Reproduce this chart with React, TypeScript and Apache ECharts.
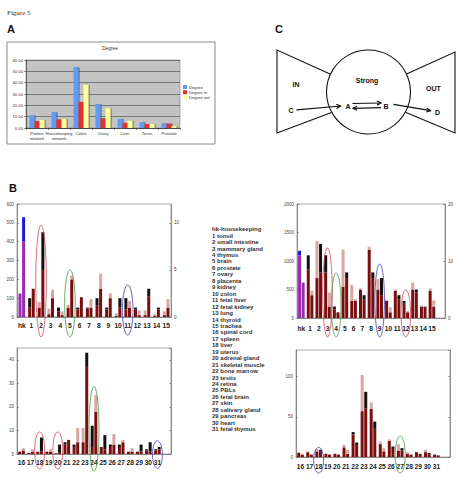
import React, { useEffect, useRef } from "react";
import * as echarts from "echarts";

// ---- Panel A: mean degree per network ----
const degreeCategories = ["Protein\nnetwork", "Housekeeping\nnetwork", "Colon", "Ovary", "Liver", "Testis", "Prostate"];
const degreeTotal = [11, 14, 53.5, 21, 8, 5, 4];
const degreeIn = [6, 7.5, 23, 8.5, 4.5, 3.5, 3.8];
const degreeOut = [7, 8, 38, 17.5, 6.5, 3.5, 1.5];

// ---- Panel B: tissues ----
const upperLabels = ["hk", "1", "2", "3", "4", "5", "6", "7", "8", "9", "10", "11", "12", "13", "14", "15"];
const lowerLabels = ["16", "17", "18", "19", "20", "21", "22", "23", "24", "25", "26", "27", "28", "29", "30", "31"];
const tissueNames = [
  "tonsil", "small intestine", "mammary gland", "thymus", "brain", "prostate", "ovary", "placenta",
  "kidney", "colon", "fetal liver", "fetal kidney", "lung", "thyroid", "trachea", "spinal cord",
  "spleen", "liver", "uterus", "adrenal gland", "skeletal muscle", "bone marrow", "testis", "retina",
  "PBLs", "fetal brain", "skin", "salivary gland", "pancreas", "heart", "fetal thymus",
];

// cap codes: k = black cap, p = pink cap, b = blue cap (housekeeping), - = no cap
const ulFirstTotal = [125, 100, 80, 45, 50, 65, 50, 50, 100, 50, 20, 100, 50, 35, 15, 30];
const ulFirstBase = [125, 50, 50, 15, 30, 50, 40, 45, 60, 40, 5, 40, 40, 10, 5, 10];
const ulFirstCap = ["-", "k", "p", "p", "k", "p", "k", "k", "k", "k", "p", "k", "k", "p", "p", "p"];
const ulSecondTotal = [530, 150, 450, 145, 30, 220, 105, 95, 230, 125, 100, 85, 35, 150, 50, 95];
const ulSecondBase = [400, 150, 250, 100, 10, 200, 105, 50, 150, 100, 50, 50, 10, 110, 40, 50];
const ulSecondCap = ["b", "-", "k", "p", "p", "p", "-", "p", "p", "p", "k", "p", "p", "k", "k", "p"];

const urFirstTotal = [1180, 1100, 1350, 1100, 200, 1200, 580, 520, 1250, 680, 320, 500, 300, 620, 220, 520];
const urFirstBase = [1100, 850, 700, 800, 150, 550, 300, 500, 1200, 500, 300, 480, 250, 500, 200, 480];
const urFirstCap = ["b", "k", "p", "k", "k", "p", "p", "p", "p", "p", "p", "p", "k", "p", "p", "p"];
const urSecondTotal = [620, 480, 1300, 450, 100, 800, 330, 400, 800, 700, 190, 400, 120, 500, 200, 310];
const urSecondBase = [620, 400, 800, 200, 100, 700, 300, 320, 700, 400, 100, 330, 100, 450, 180, 200];
const urSecondCap = ["-", "p", "k", "p", "-", "k", "p", "k", "k", "k", "p", "k", "p", "k", "k", "p"];

const llFirstTotal = [1, 0.5, 1, 1, 0.3, 5, 4, 11, 12, 3, 4, 4, 1, 1, 2, 2];
const llFirstBase = [1, 0.5, 1, 1, 0.3, 4, 3, 5, 3, 3, 3, 3, 1, 1, 1.5, 1.5];
const llFirstCap = ["-", "-", "-", "-", "-", "k", "k", "p", "k", "-", "k", "k", "-", "-", "k", "k"];
const llSecondTotal = [2.5, 2, 7, 2, 4, 6, 11, 43, 25, 8, 8.5, 6, 2.5, 4, 5, 3];
const llSecondBase = [1.5, 1, 1, 1, 0.5, 6, 5, 37, 18, 2, 4, 5, 1, 1, 1, 2];
const llSecondCap = ["p", "p", "k", "p", "k", "-", "p", "k", "p", "k", "p", "p", "p", "k", "k", "k"];

const lrFirstTotal = [6, 7, 10, 4, 4, 15, 31, 102, 68, 19, 22, 16, 6, 6, 9, 3];
const lrFirstBase = [5, 6, 7, 4, 4, 12, 28, 57, 60, 16, 20, 8, 4, 6, 6, 3];
const lrFirstCap = ["p", "p", "p", "-", "-", "p", "k", "p", "p", "p", "p", "p", "p", "-", "p", "-"];
const lrSecondTotal = [4, 3, 9, 3, 3, 9, 18, 81, 44, 11, 13, 11, 3, 4, 5, 2];
const lrSecondBase = [3, 3, 7, 3, 3, 4, 15, 60, 35, 7, 10, 8, 3, 4, 3, 2];
const lrSecondCap = ["p", "-", "k", "-", "-", "p", "k", "k", "k", "p", "k", "k", "-", "-", "k", "-"];

// highlighted tissues: category, upper and lower reach (axis units), outline hue
const ulRingAt = ["2", "5", "11"];
const ulRingTop = [488, 250, 170];
const ulRingBottom = [-106, -106, -96];
const ulRingHue = ["red", "green", "blue"];
const urRingAt = ["3", "4", "9", "12"];
const urRingTop = [1228, 790, 947, 491];
const urRingBottom = [-333, -333, -333, -333];
const urRingHue = ["red", "green", "blue", "red"];
const llRingAt = ["18", "20", "24", "31"];
const llRingTop = [9.4, 9.4, 28.6, 5.6];
const llRingBottom = [-6.4, -6.4, -7.3, -6.0];
const llRingHue = ["red", "red", "green", "blue"];
const lrRingAt = ["18", "27"];
const lrRingTop = [12, 26];
const lrRingBottom = [-20, -20];
const lrRingHue = ["blue", "green"];

const FONT = "Liberation Sans, Arial, sans-serif";
const DARK = "#7a0d0d";
const CAP: Record<string, string> = { k: "#141012", p: "#dba6a6", b: "#1c1ad8", "-": DARK };
const HUE: Record<string, string> = { red: "#d2485a", green: "#3f9a46", blue: "#3d3fae" };
const PURPLE = "#9a2ab0";

function barPair(axis: number, labels: string[], key: string, first: [number[], number[], string[]], second: [number[], number[], string[]]) {
  const out: any[] = [];
  [first, second].forEach(([total, base, cap], j) => {
    const stack = `${key}-${j}`;
    out.push({
      type: "bar",
      xAxisIndex: axis,
      yAxisIndex: axis * 2 - 1,
      stack,
      barWidth: 3,
      barGap: "20%",
      data: base.map((v, i) => ({ value: v, itemStyle: { color: labels[i] === "hk" ? PURPLE : DARK } })),
    });
    out.push({
      type: "bar",
      xAxisIndex: axis,
      yAxisIndex: axis * 2 - 1,
      stack,
      barWidth: 3,
      barGap: "20%",
      data: total.map((v, i) => ({ value: Math.max(0, v - base[i]), itemStyle: { color: CAP[cap[i]] } })),
    });
  });
  return out;
}

function rings(axis: number, labels: string[], at: string[], top: number[], bottom: number[], hue: string[]) {
  return {
    type: "custom",
    xAxisIndex: axis,
    yAxisIndex: axis * 2 - 1,
    clip: false,
    silent: true,
    z: 5,
    data: at.map((c, i) => [labels.indexOf(c), top[i], bottom[i], i]),
    renderItem: (_p: any, api: any) => {
      const idx = api.value(0);
      const hi = api.coord([idx, api.value(1)]);
      const lo = api.coord([idx, api.value(2)]);
      const band = api.size([1, 0])[0];
      return {
        type: "ellipse",
        shape: { cx: hi[0], cy: (hi[1] + lo[1]) / 2, rx: band * 0.55, ry: (lo[1] - hi[1]) / 2 },
        style: { fill: "none", stroke: HUE[hue[api.value(3)]], lineWidth: 0.8 },
      };
    },
  };
}

const tinyLabel = { fontSize: 4.5, color: "#444", fontFamily: FONT };
const axisLineStyle = { color: "#555", width: 0.6 };

function catAxis(gridIndex: number, labels: string[], margin: number) {
  return {
    type: "category",
    gridIndex,
    data: labels,
    boundaryGap: true,
    axisLine: { show: true, lineStyle: axisLineStyle },
    axisTick: { show: false },
    axisLabel: { interval: 0, fontSize: 6.6, fontWeight: "bold", color: "#1a1a1a", fontFamily: FONT, margin },
  };
}

function valAxis(gridIndex: number, max: number, interval: number, position: string, labels: boolean) {
  return {
    type: "value",
    gridIndex,
    position,
    min: 0,
    max,
    interval,
    axisLine: { show: true, lineStyle: axisLineStyle },
    axisTick: { show: true, inside: true, length: 2, lineStyle: { color: "#555", width: 0.5 } },
    axisLabel: { show: labels, ...tinyLabel, margin: 3, showMaxLabel: max % interval === 0, formatter: (v: number) => String(v) },
    splitLine: { show: false },
  };
}

function arrow(x1: number, y1: number, x2: number, y2: number) {
  const ang = Math.atan2(y2 - y1, x2 - x1);
  const h = 4.5;
  const a1 = ang + Math.PI * 0.85;
  const a2 = ang - Math.PI * 0.85;
  const st = { stroke: "#111", lineWidth: 1.2, fill: "none" };
  return [
    { type: "line", shape: { x1, y1, x2, y2 }, style: st },
    {
      type: "polyline",
      shape: { points: [[x2 + h * Math.cos(a1), y2 + h * Math.sin(a1)], [x2, y2], [x2 + h * Math.cos(a2), y2 + h * Math.sin(a2)]] },
      style: st,
    },
  ];
}

function label(text: string, x: number, y: number, size: number, extra: any = {}) {
  return {
    type: "text",
    x,
    y,
    style: { text, fontSize: size, fontFamily: FONT, fontWeight: "bold", fill: "#111", align: "center", verticalAlign: "middle", ...extra },
  };
}

export default function App() {
  const ref = useRef<HTMLDivElement>(null);

  useEffect(() => {
    document.body.style.margin = "0";
    if (!ref.current) return;
    const chart = echarts.init(ref.current, undefined, { renderer: "svg" });

    const upper = upperLabels;
    const upperPad = [...upperLabels, ""];
    const lowerPad = [...lowerLabels, ""];
    const excelBar = { shadowColor: "rgba(60,60,60,0.75)", shadowOffsetX: 1, shadowBlur: 0 };

    const option: any = {
      animation: false,
      textStyle: { fontFamily: FONT },
      grid: [
        { left: 26, top: 60, width: 154, height: 68, show: true, backgroundColor: "#c3c3c3", borderColor: "#808080", borderWidth: 0.6 },
        { left: 17, top: 204, width: 154, height: 113, show: true, borderColor: "#777", borderWidth: 0.6 },
        { left: 297, top: 204, width: 154, height: 114, show: true, borderColor: "#777", borderWidth: 0.6 },
        { left: 17, top: 348, width: 154, height: 106, show: true, borderColor: "#777", borderWidth: 0.6 },
        { left: 296, top: 350, width: 154, height: 107, show: true, borderColor: "#777", borderWidth: 0.6 },
      ],
      xAxis: [
        {
          type: "category",
          gridIndex: 0,
          data: degreeCategories,
          axisLine: { show: true, lineStyle: { color: "#222", width: 0.6 } },
          axisTick: { show: true, length: 2, lineStyle: { color: "#222", width: 0.5 } },
          axisLabel: { interval: 0, fontSize: 4.2, lineHeight: 4.8, color: "#333", margin: 3 },
        },
        catAxis(1, upper, 5),
        catAxis(2, upperPad, 7),
        catAxis(3, lowerPad, 5),
        catAxis(4, lowerPad, 6),
      ],
      yAxis: [
        {
          type: "value",
          gridIndex: 0,
          min: 0,
          max: 60,
          interval: 10,
          axisLine: { show: true, lineStyle: { color: "#222", width: 0.6 } },
          axisTick: { show: true, length: 2, lineStyle: { color: "#222", width: 0.5 } },
          axisLabel: { fontSize: 4.2, color: "#333", margin: 3, formatter: (v: number) => v.toFixed(2) },
          splitLine: { show: true, lineStyle: { color: "#444", width: 0.6 } },
        },
        valAxis(1, 600, 100, "left", true),
        valAxis(1, 12, 5, "right", true),
        valAxis(2, 2000, 500, "left", true),
        valAxis(2, 20, 10, "right", true),
        valAxis(3, 45, 10, "left", true),
        valAxis(3, 45, 10, "right", false),
        valAxis(4, 133, 50, "left", true),
        valAxis(4, 133, 50, "right", false),
      ],
      legend: {
        data: ["Degree", "Degree in", "Degree out"],
        orient: "vertical",
        left: 183,
        top: 85,
        itemWidth: 4,
        itemHeight: 4,
        itemGap: 1.2,
        padding: 0,
        icon: "rect",
        textStyle: { fontSize: 4.2, color: "#333", padding: [0, 0, 0, -3] },
      },
      series: [
        { type: "bar", name: "Degree", xAxisIndex: 0, yAxisIndex: 0, data: degreeTotal, barWidth: 5, barGap: "0%", itemStyle: { color: "#5f9cf2", ...excelBar } },
        { type: "bar", name: "Degree in", xAxisIndex: 0, yAxisIndex: 0, data: degreeIn, barWidth: 5, barGap: "0%", itemStyle: { color: "#e03232", ...excelBar } },
        { type: "bar", name: "Degree out", xAxisIndex: 0, yAxisIndex: 0, data: degreeOut, barWidth: 5, barGap: "0%", itemStyle: { color: "#ffff9e", ...excelBar } },
        ...barPair(1, upper, "ul", [ulFirstTotal, ulFirstBase, ulFirstCap], [ulSecondTotal, ulSecondBase, ulSecondCap]),
        ...barPair(2, upperPad, "ur", [urFirstTotal, urFirstBase, urFirstCap], [urSecondTotal, urSecondBase, urSecondCap]),
        ...barPair(3, lowerPad, "ll", [llFirstTotal, llFirstBase, llFirstCap], [llSecondTotal, llSecondBase, llSecondCap]),
        ...barPair(4, lowerPad, "lr", [lrFirstTotal, lrFirstBase, lrFirstCap], [lrSecondTotal, lrSecondBase, lrSecondCap]),
        rings(1, upper, ulRingAt, ulRingTop, ulRingBottom, ulRingHue),
        rings(2, upperPad, urRingAt, urRingTop, urRingBottom, urRingHue),
        rings(3, lowerPad, llRingAt, llRingTop, llRingBottom, llRingHue),
        rings(4, lowerPad, lrRingAt, lrRingTop, lrRingBottom, lrRingHue),
      ],
      graphic: [
        { type: "text", x: 7, y: 9, style: { text: "Figure 5", fontSize: 7, fontFamily: "Liberation Serif, serif", fill: "#333", verticalAlign: "top" } },
        label("A", 11, 29, 11),
        label("B", 13, 188, 11),
        label("C", 279, 29, 11),
        { type: "rect", shape: { x: 7, y: 42, width: 208, height: 102 }, style: { fill: "none", stroke: "#8a8a8a", lineWidth: 1 } },
        label("Degree", 110, 48, 4.8, { fontWeight: "normal", fill: "#333" }),
        {
          type: "text",
          x: 212,
          y: 226,
          style: {
            text: ["hk-housekeeping", ...tissueNames.map((n, i) => `${i + 1} ${n}`)].join("\n"),
            fontSize: 6,
            lineHeight: 6.45,
            fontFamily: FONT,
            fontWeight: "bold",
            fill: "#333",
            verticalAlign: "top",
          },
        },
        // bow-tie diagram
        { type: "polyline", shape: { points: [[330, 74], [277, 50], [277, 133], [331.5, 112.5]] }, style: { stroke: "#111", lineWidth: 1.1, fill: "none" } },
        { type: "polyline", shape: { points: [[406.5, 74], [455, 52], [455, 133], [406, 112.5]] }, style: { stroke: "#111", lineWidth: 1.1, fill: "none" } },
        { type: "circle", shape: { cx: 368.5, cy: 92, r: 42 }, style: { stroke: "#111", lineWidth: 1.1, fill: "none" } },
        label("IN", 296, 84.5, 7),
        label("Strong", 367, 80, 7),
        label("OUT", 433.5, 88.5, 7),
        label("C", 291, 110.5, 7),
        label("A", 348, 106.5, 7),
        label("B", 386, 106.5, 7),
        label("D", 437.5, 112, 7),
        ...arrow(296.5, 109.8, 340.5, 106),
        ...arrow(352.5, 103.5, 381, 103),
        ...arrow(381, 107.6, 353, 108.3),
        ...arrow(393.5, 104.3, 430.5, 110.7),
      ],
    };

    chart.setOption(option);
    return () => chart.dispose();
  }, []);

  return <div ref={ref} style={{ width: 456, height: 477 }} />;
}
